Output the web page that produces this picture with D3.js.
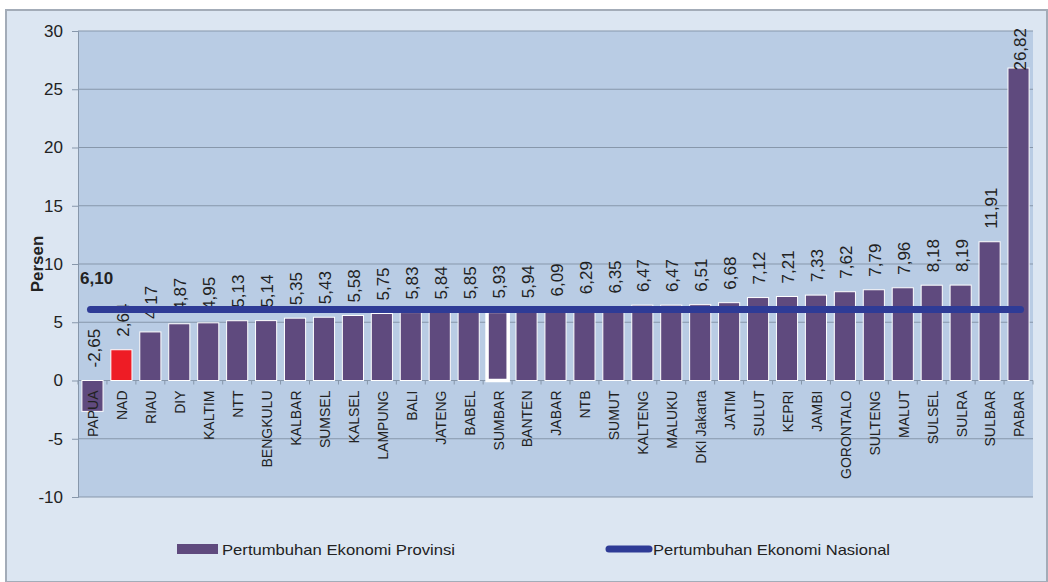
<!DOCTYPE html>
<html><head><meta charset="utf-8">
<script src="https://cdn.jsdelivr.net/npm/d3@7"></script>
<style>
html,body{margin:0;padding:0;background:#fff;}
text{font-family:"Liberation Sans",Arial,sans-serif;}
</style></head>
<body><svg id="c" width="1048" height="582"></svg>
<script>
const categories = ["PAPUA","NAD","RIAU","DIY","KALTIM","NTT","BENGKULU","KALBAR","SUMSEL","KALSEL","LAMPUNG","BALI","JATENG","BABEL","SUMBAR","BANTEN","JABAR","NTB","SUMUT","KALTENG","MALUKU","DKI Jakarta","JATIM","SULUT","KEPRI","JAMBI","GORONTALO","SULTENG","MALUT","SULSEL","SULRA","SULBAR","PABAR"];
const provinceGrowth = [-2.65,2.64,4.17,4.87,4.95,5.13,5.14,5.35,5.43,5.58,5.75,5.83,5.84,5.85,5.93,5.94,6.09,6.29,6.35,6.47,6.47,6.51,6.68,7.12,7.21,7.33,7.62,7.79,7.96,8.18,8.19,11.91,26.82];
const nationalGrowth = 6.10;
const yTicks = [-10,-5,0,5,10,15,20,25,30];
const legendLabels = ["Pertumbuhan Ekonomi Provinsi","Pertumbuhan Ekonomi Nasional"];

const svg = d3.select("#c");
const fmt = v => v.toFixed(2).replace(".", ",");
const L = 78, R = 1033, T = 31, B = 497;

svg.append("rect").attr("x",6).attr("y",10).attr("width",1041).attr("height",572)
  .attr("fill","#dce6f2").attr("stroke","#a3acb8").attr("stroke-width",2);

const x = d3.scaleBand().domain(categories).range([L,R]).paddingInner(0.27).paddingOuter(0.135);
const y = d3.scaleLinear().domain([-10,30]).range([B,T]);

svg.append("rect").attr("x",L).attr("y",T).attr("width",R-L).attr("height",B-T).attr("fill","#b9cce4");

// gridlines
svg.append("g").selectAll("line").data(yTicks).join("line")
  .attr("x1",L).attr("x2",R).attr("y1",d=>y(d)).attr("y2",d=>y(d))
  .attr("stroke","#8797ab").attr("stroke-width",1);

// y axis
const ya = svg.append("g").attr("transform",`translate(${L},0)`)
  .call(d3.axisLeft(y).tickValues(yTicks).tickSize(6).tickPadding(9).tickFormat(d=>String(d)));
ya.select(".domain").attr("stroke","#8797ab");
ya.selectAll(".tick line").attr("stroke","#8797ab");
ya.selectAll(".tick text").attr("font-size",17).attr("fill","#222").attr("font-family","Liberation Sans, Arial, sans-serif");

// bars
const idx = categories.map((c,i)=>i);
svg.append("g").selectAll("rect").data(idx).join("rect")
  .attr("x",i=>x(categories[i]))
  .attr("width",x.bandwidth())
  .attr("y",i=>y(Math.max(0,provinceGrowth[i])))
  .attr("height",i=>Math.abs(y(provinceGrowth[i])-y(0)))
  .attr("fill",i=>categories[i]==="NAD"?"#ee1c25":"#5f4a7e")
  .attr("stroke","#ffffff")
  .attr("stroke-width",i=>categories[i]==="SUMBAR"?3.5:1);

// x tick marks at band boundaries
const step = x.step();
const bounds = d3.range(categories.length+1).map(i=>x(categories[0]) - (step - x.bandwidth())/2 + i*step);
svg.append("g").selectAll("line").data(bounds).join("line")
  .attr("x1",d=>d).attr("x2",d=>d).attr("y1",y(0)).attr("y2",y(0)+4)
  .attr("stroke","#8797ab");

// category labels
svg.append("g").selectAll("text").data(categories).join("text")
  .attr("transform",d=>`translate(${x(d)+x.bandwidth()/2+1},${y(0)+10}) rotate(-90)`)
  .attr("text-anchor","end").attr("dy","0.35em")
  .attr("font-size",14).attr("fill","#222").text(d=>d);

// value labels
const vl = svg.append("g").selectAll("text").data(idx).join("text")
  .attr("text-anchor","start").attr("dy","0.36em")
  .attr("font-size",17).attr("fill","#222").text(i=>fmt(provinceGrowth[i]));
vl.each(function(i){
  const len = this.getComputedTextLength();
  let yy = y(Math.max(0,provinceGrowth[i])) - 13;
  if (yy - len < T - 3) yy = T - 3 + len;
  d3.select(this).attr("transform",`translate(${x(categories[i])+x.bandwidth()/2+1},${yy}) rotate(-90)`);
});

// national line
svg.append("line")
  .attr("x1",x(categories[0])+x.bandwidth()/2 - 2)
  .attr("x2",x(categories[categories.length-1])+x.bandwidth()/2 + 2)
  .attr("y1",y(nationalGrowth)).attr("y2",y(nationalGrowth))
  .attr("stroke","#2e3b96").attr("stroke-width",7).attr("stroke-linecap","round");

svg.append("text").attr("x",80).attr("y",284).attr("font-size",17).attr("font-weight","bold")
  .attr("fill","#222").text(fmt(nationalGrowth));

svg.append("text").attr("transform","translate(43,264) rotate(-90)").attr("text-anchor","middle")
  .attr("font-size",17).attr("font-weight","bold").attr("fill","#222").text("Persen");

// legend
svg.append("rect").attr("x",177).attr("y",544).attr("width",41).attr("height",10).attr("fill","#5f4a7e");
svg.append("text").attr("x",222).attr("y",555).attr("font-size",15).attr("fill","#222")
  .attr("textLength",233).attr("lengthAdjust","spacingAndGlyphs").text(legendLabels[0]);
svg.append("line").attr("x1",609).attr("x2",649).attr("y1",549).attr("y2",549)
  .attr("stroke","#2e3b96").attr("stroke-width",7).attr("stroke-linecap","round");
svg.append("text").attr("x",653).attr("y",555).attr("font-size",15).attr("fill","#222")
  .attr("textLength",237).attr("lengthAdjust","spacingAndGlyphs").text(legendLabels[1]);
</script></body></html>
